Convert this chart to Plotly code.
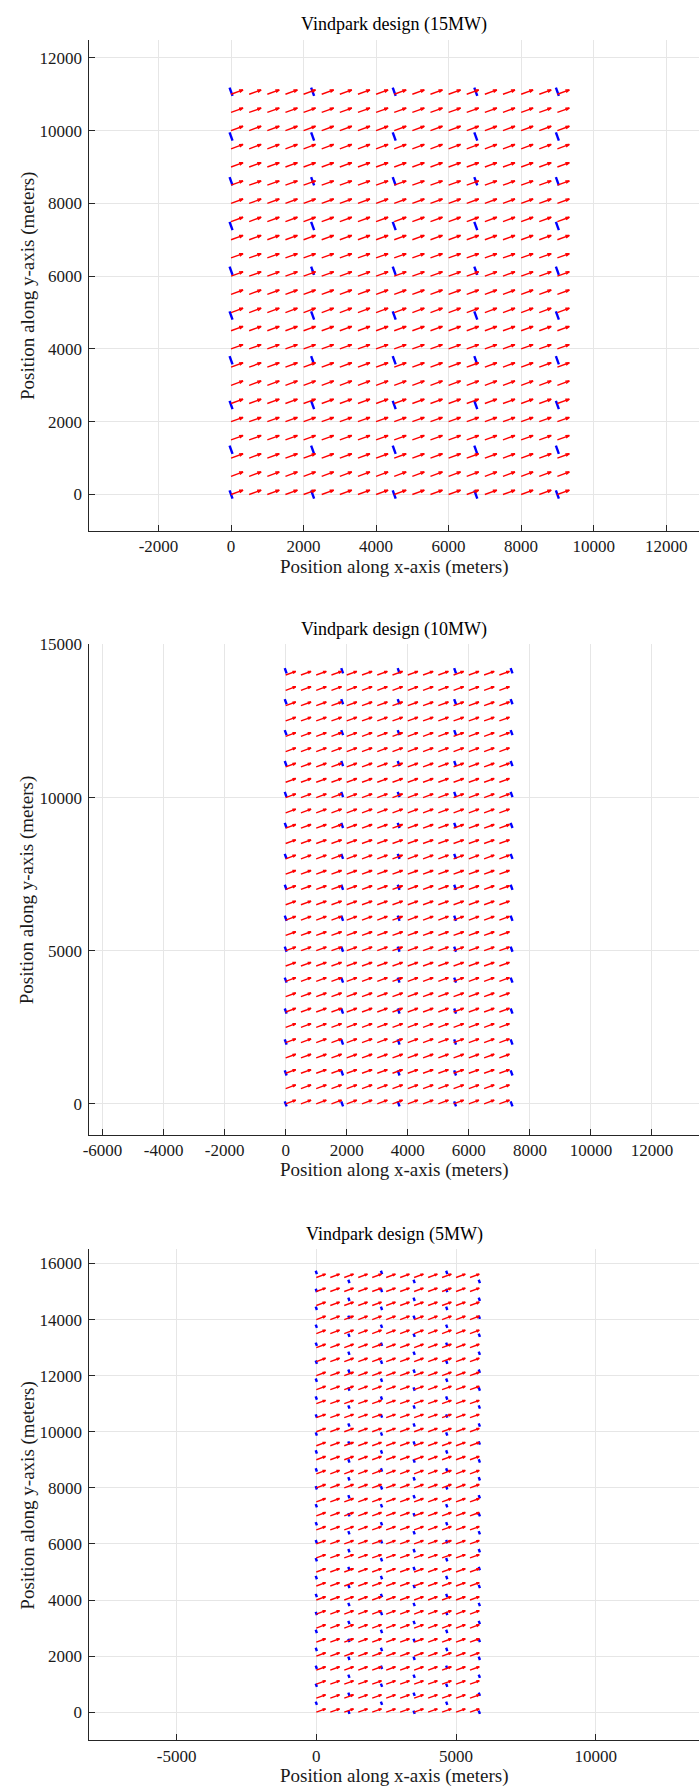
import math
import plotly.graph_objects as go

W, H = 699, 1789

# ---- common wind field settings -------------------------------------------
wind_angle_deg = 20.0      # direction the wind blows towards, above the x-axis
arrow_len = 350.0          # drawn length of each wind arrow (m)

titles = ["Vindpark design (15MW)", "Vindpark design (10MW)", "Vindpark design (5MW)"]
rotor_diameter = [240.0, 178.0, 126.0]   # m, for 15 / 10 / 5 MW

# ---- 15 MW park -------------------------------------------------------------
turb15_cols = [0, 2250, 4500, 6750, 9000]
turb15_rows = [0, 1230, 2460, 3690, 4920, 6150, 7380, 8610, 9840, 11070]
wind15_x = [0, 500, 1000, 1500, 2000, 2500, 3000, 3500, 4000, 4500,
            5000, 5500, 6000, 6500, 7000, 7500, 8000, 8500, 9000]
wind15_y = [0, 500, 1000, 1500, 2000, 2500, 3000, 3500, 4000, 4500, 5000, 5500,
            6000, 6500, 7000, 7500, 8000, 8500, 9000, 9500, 10000, 10500, 11000]

# ---- 10 MW park -------------------------------------------------------------
turb10_cols = [0, 1850, 3700, 5550, 7400]
turb10_rows = [0, 1010, 2020, 3030, 4040, 5050, 6060, 7070, 8080, 9090,
               10100, 11110, 12120, 13130, 14140]
wind10_x = [0, 500, 1000, 1500, 2000, 2500, 3000, 3500, 4000, 4500,
            5000, 5500, 6000, 6500, 7000]
wind10_y = [0, 500, 1000, 1500, 2000, 2500, 3000, 3500, 4000, 4500, 5000,
            5500, 6000, 6500, 7000, 7500, 8000, 8500, 9000, 9500, 10000,
            10500, 11000, 11500, 12000, 12500, 13000, 13500, 14000]

# ---- 5 MW park (staggered columns) -------------------------------------------
turb5_cols = [0, 1167, 2333, 3500, 4667, 5833]
turb5_rows_shifted = [320, 960, 1600, 2240, 2880, 3520, 4160, 4800, 5440, 6080,
                      6720, 7360, 8000, 8640, 9280, 9920, 10560, 11200, 11840,
                      12480, 13120, 13760, 14400, 15040, 15680]
turb5_rows_plain = [0, 640, 1280, 1920, 2560, 3200, 3840, 4480, 5120, 5760,
                    6400, 7040, 7680, 8320, 8960, 9600, 10240, 10880, 11520,
                    12160, 12800, 13440, 14080, 14720, 15360]
wind5_x = [0, 500, 1000, 1500, 2000, 2500, 3000, 3500, 4000, 4500, 5000, 5500]
wind5_y = [0, 500, 1000, 1500, 2000, 2500, 3000, 3500, 4000, 4500, 5000,
           5500, 6000, 6500, 7000, 7500, 8000, 8500, 9000, 9500, 10000,
           10500, 11000, 11500, 12000, 12500, 13000, 13500, 14000, 14500,
           15000, 15500]

# ---- axis ticks -------------------------------------------------------------
xt15 = [-2000, 0, 2000, 4000, 6000, 8000, 10000, 12000]
xt15_text = ["-2000", "0", "2000", "4000", "6000", "8000", "10000", "12000"]
yt15 = [0, 2000, 4000, 6000, 8000, 10000, 12000]
yt15_text = ["0", "2000", "4000", "6000", "8000", "10000", "12000"]

xt10 = [-6000, -4000, -2000, 0, 2000, 4000, 6000, 8000, 10000, 12000]
xt10_text = ["-6000", "-4000", "-2000", "0", "2000", "4000", "6000", "8000",
             "10000", "12000"]
yt10 = [0, 5000, 10000, 15000]
yt10_text = ["0", "5000", "10000", "15000"]

xt5 = [-5000, 0, 5000, 10000]
xt5_text = ["-5000", "0", "5000", "10000"]
yt5 = [0, 2000, 4000, 6000, 8000, 10000, 12000, 14000, 16000]
yt5_text = ["0", "2000", "4000", "6000", "8000", "10000", "12000", "14000", "16000"]


def turbine_positions(cols, rows_by_col):
    pts = []
    for i, cx in enumerate(cols):
        for ry in rows_by_col(i):
            pts.append((cx, ry))
    return pts


parks = [
    dict(turbines=turbine_positions(turb15_cols, lambda i: turb15_rows),
         wx=wind15_x, wy=wind15_y, D=rotor_diameter[0]),
    dict(turbines=turbine_positions(turb10_cols, lambda i: turb10_rows),
         wx=wind10_x, wy=wind10_y, D=rotor_diameter[1]),
    dict(turbines=turbine_positions(
        turb5_cols, lambda i: turb5_rows_shifted if i % 2 == 0 else turb5_rows_plain),
         wx=wind5_x, wy=wind5_y, D=rotor_diameter[2]),
]

th = math.radians(wind_angle_deg)
ux, uy = math.cos(th), math.sin(th)
# rotor plane is perpendicular to the wind
px_, py_ = -uy, ux

fig = go.Figure()

for k, park in enumerate(parks):
    xa = "x" if k == 0 else f"x{k + 1}"
    ya = "y" if k == 0 else f"y{k + 1}"

    # rotor lines
    bx, by = [], []
    half = park["D"] / 2.0
    for (cx, cy) in park["turbines"]:
        bx += [cx - half * px_, cx + half * px_, None]
        by += [cy - half * py_, cy + half * py_, None]
    fig.add_trace(go.Scatter(x=bx, y=by, mode="lines", xaxis=xa, yaxis=ya,
                             line=dict(color="#0000ff", width=2.4),
                             hoverinfo="skip", showlegend=False))

    # wind arrows (quiver style)
    rx, ry = [], []
    a, b = 0.30, 0.33
    u, v = arrow_len * ux, arrow_len * uy
    for x0 in park["wx"]:
        for y0 in park["wy"]:
            tx, ty = x0 + u, y0 + v
            rx += [x0, tx, None]
            ry += [y0, ty, None]
            rx += [tx - a * (u + b * v), tx, tx - a * (u - b * v), None]
            ry += [ty - a * (v - b * u), ty, ty - a * (v + b * u), None]
    fig.add_trace(go.Scatter(x=rx, y=ry, mode="lines", xaxis=xa, yaxis=ya,
                             line=dict(color="#ff0000", width=1.4),
                             hoverinfo="skip", showlegend=False))

FONT = "Liberation Serif"
AX = "#262626"
GRID = "#e6e6e6"


def px_y(p):
    return 1 - p / H


x_dom = [84 / W, 1.0]
boxes = [(30.8, 524.5), (638.6, 1131.2), (1246.7, 1740.0)]
x_ranges = [[-3910, 12906], [-6434, 13540], [-8123, 13693]]
y_ranges = [[-1000, 12500], [-1000, 15000], [-1000, 16500]]
xticks = [(xt15, xt15_text), (xt10, xt10_text), (xt5, xt5_text)]
yticks = [(yt15, yt15_text), (yt10, yt10_text), (yt5, yt5_text)]

axis_common = dict(showgrid=True, gridcolor=GRID, gridwidth=1, zeroline=False,
                   showline=True, linecolor=AX, linewidth=1, ticks="inside",
                   ticklen=6, tickcolor=AX, tickwidth=1,
                   tickfont=dict(family=FONT, size=17, color="#1a1a1a"),
                   tickmode="array", fixedrange=True)

layout = dict(width=W, height=H, margin=dict(l=0, r=0, t=0, b=0),
              paper_bgcolor="white", plot_bgcolor="white",
              font=dict(family=FONT, color=AX), annotations=[])

for k in range(3):
    top, bot = boxes[k]
    xname = "xaxis" if k == 0 else f"xaxis{k + 1}"
    yname = "yaxis" if k == 0 else f"yaxis{k + 1}"
    ya = "y" if k == 0 else f"y{k + 1}"
    xa = "x" if k == 0 else f"x{k + 1}"
    layout[xname] = dict(axis_common, domain=x_dom, range=x_ranges[k], anchor=ya,
                         tickvals=xticks[k][0], ticktext=xticks[k][1],
                         ticklabelstandoff=0)
    layout[yname] = dict(axis_common, domain=[px_y(bot), px_y(top)],
                         range=y_ranges[k], anchor=xa,
                         tickvals=yticks[k][0], ticktext=yticks[k][1],
                         ticklabelstandoff=3)
    # title
    layout["annotations"].append(dict(
        text=titles[k], xref="paper", yref="paper", x=391.5 / W,
        y=px_y(top - 15), xanchor="center", yanchor="middle", showarrow=False,
        font=dict(family=FONT, size=18, color="black")))
    # x label
    layout["annotations"].append(dict(
        text="Position along x-axis (meters)", xref="paper", yref="paper",
        x=391.5 / W, y=px_y(bot + 36), xanchor="center", yanchor="middle",
        showarrow=False, font=dict(family=FONT, size=19, color="#1a1a1a")))
    # y label
    layout["annotations"].append(dict(
        text="Position along y-axis (meters)", xref="paper", yref="paper",
        x=22 / W, y=px_y((top + bot) / 2), xanchor="center", yanchor="middle",
        textangle=-90, showarrow=False, font=dict(family=FONT, size=19, color="#1a1a1a")))

fig.update_layout(**layout)
fig.write_html("out.html")
